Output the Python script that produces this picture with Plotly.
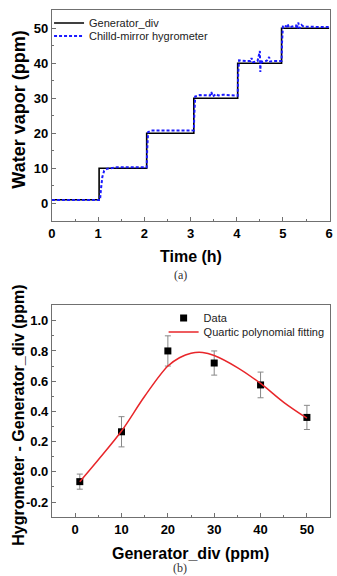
import plotly.graph_objects as go

# ---- Panel (a) data ----
gen_time = [0, 1.02, 2.05, 3.07, 4.02, 4.97, 6.0]
gen_vals = [1, 10, 20, 30, 40, 50, 50]

hyg_time = [0, 1.04, 1.06, 1.09, 1.13, 1.2, 1.4, 2.05, 2.06, 2.08, 2.15, 3.07, 3.08, 3.1,
            3.2, 3.42, 3.45, 3.48, 3.55, 3.6, 3.7, 4.02, 4.03, 4.05, 4.2, 4.3, 4.32, 4.35,
            4.45, 4.5, 4.51, 4.52, 4.55, 4.65, 4.7, 4.72, 4.8, 4.97, 4.98, 5.0, 5.08, 5.1,
            5.13, 5.2, 5.28, 5.3, 5.33, 5.36, 5.4, 5.45, 5.6, 6.0]
hyg_vals = [0.93, 0.93, 4, 7.5, 9.3, 9.9, 10.27, 10.27, 15, 20.3, 20.8, 20.8, 25, 30.5,
            30.9, 30.8, 31.8, 30.5, 31.2, 30.8, 31.0, 30.72, 37, 40.8, 40.6, 40.6, 41.5, 40.3,
            40.6, 43.5, 37.5, 41, 40.3, 40.7, 41.8, 40.5, 40.6, 40.6, 46, 50.8, 50.5, 51.2,
            50.2, 50.4, 50.8, 49.8, 51.6, 50.0, 50.9, 50.4, 50.36, 50.36]

# ---- Panel (b) data ----
data_x = [1, 10, 20, 30, 40, 50]
data_y = [-0.065, 0.265, 0.80, 0.72, 0.575, 0.36]
data_err = [0.05, 0.10, 0.10, 0.08, 0.085, 0.08]

fit_x = [1, 5, 10, 15, 20, 22.5, 25, 27.5, 30, 35, 40, 45, 50]
fit_y = [-0.065, 0.08, 0.27, 0.50, 0.70, 0.755, 0.785, 0.79, 0.77, 0.69, 0.585, 0.46, 0.355]

b_yticks = [-0.2, 0.0, 0.2, 0.4, 0.6, 0.8, 1.0]
b_yticktext = ["-0.2", "0.0", "0.2", "0.4", "0.6", "0.8", "1.0"]

W, H = 337, 576
FONT = "Liberation Sans, Arial, sans-serif"
AXC = "#707070"

fig = go.Figure()

fig.add_trace(go.Scatter(x=gen_time, y=gen_vals, mode="lines", line_shape="hv",
                         line=dict(color="black", width=1.6), name="Generator_div",
                         xaxis="x", yaxis="y", legend="legend"))
fig.add_trace(go.Scatter(x=hyg_time, y=hyg_vals, mode="lines",
                         line=dict(color="#1a1aff", width=2, dash="3px,2px"),
                         name="Chilld-mirror hygrometer", xaxis="x", yaxis="y", legend="legend2"))

fig.add_trace(go.Scatter(x=data_x, y=data_y, mode="markers",
                         marker=dict(symbol="square", size=7, color="black"),
                         error_y=dict(type="data", array=data_err, color="#888888",
                                      thickness=1, width=3),
                         name="Data", xaxis="x2", yaxis="y2", legend="legend3"))
fig.add_trace(go.Scatter(x=fit_x, y=fit_y, mode="lines", line_shape="spline",
                         line=dict(color="#e8262a", width=1.5, smoothing=1.0),
                         name="Quartic polynomial fitting", xaxis="x2", yaxis="y2",
                         legend="legend4"))

def px(xp):
    return xp / W

def py(yp):
    return 1 - yp / H

tickfont = dict(family=FONT, size=13, color="black", weight="bold")
common = dict(showline=True, linecolor=AXC, linewidth=1.2, mirror=True, ticks="inside",
              ticklen=4, tickcolor=AXC, tickwidth=1, showgrid=False, zeroline=False,
              tickfont=tickfont)

xdom = [px(49), px(333)]
fig.update_layout(
    width=W, height=H, margin=dict(l=0, r=0, t=0, b=0),
    paper_bgcolor="white", plot_bgcolor="white",
    xaxis=dict(domain=xdom, anchor="y", range=[0, 6.02], dtick=1, tick0=0,
               minor=dict(dtick=0.5, ticks="inside", ticklen=2, tickcolor=AXC), **common),
    yaxis=dict(domain=[py(221), py(10)], anchor="x", range=[-5.06, 55.2], dtick=10, tick0=0,
               minor=dict(dtick=5, ticks="inside", ticklen=2, tickcolor=AXC), **common),
    xaxis2=dict(domain=xdom, anchor="y2", range=[-5, 55], dtick=10, tick0=0,
                minor=dict(dtick=5, ticks="inside", ticklen=2, tickcolor=AXC), **common),
    yaxis2=dict(domain=[py(517), py(305)], anchor="x2", range=[-0.299, 1.104],
                tickvals=b_yticks, ticktext=b_yticktext,
                minor=dict(dtick=0.1, tick0=0, ticks="inside", ticklen=2, tickcolor=AXC), **common),
    showlegend=True,
)

legfont = dict(family=FONT, size=11, color="#222222")
def leg(xp, yp):
    return dict(x=px(xp), y=py(yp), xanchor="left", yanchor="middle", font=legfont,
                bgcolor="rgba(0,0,0,0)", borderwidth=0, itemwidth=30,
                tracegroupgap=0)

fig.update_layout(legend=leg(46, 23), legend2=leg(46, 36),
                  legend3=leg(163, 318), legend4=leg(163, 332))

titlefont = dict(family=FONT, size=16, color="black", weight="bold")
anns = [
    dict(text="Time (h)", x=px(191), y=py(256), font=titlefont),
    dict(text="Water vapor (ppm)", x=px(15), y=py(110), textangle=-90,
         font=dict(family=FONT, size=18, color="black", weight="bold")),
    dict(text="(a)", x=px(180), y=py(275),
         font=dict(family="Liberation Serif, Times New Roman, serif", size=12, color="#333333")),
    dict(text="Generator_div (ppm)", x=px(190), y=py(553), font=titlefont),
    dict(text="Hygrometer - Generator_div (ppm)", x=px(14), y=py(415), textangle=-90,
         font=titlefont),
    dict(text="(b)", x=px(180), y=py(568),
         font=dict(family="Liberation Serif, Times New Roman, serif", size=12, color="#333333")),
]
for a in anns:
    fig.add_annotation(xref="paper", yref="paper", showarrow=False,
                       xanchor="center", yanchor="middle", **a)

fig.write_html("out.html")
